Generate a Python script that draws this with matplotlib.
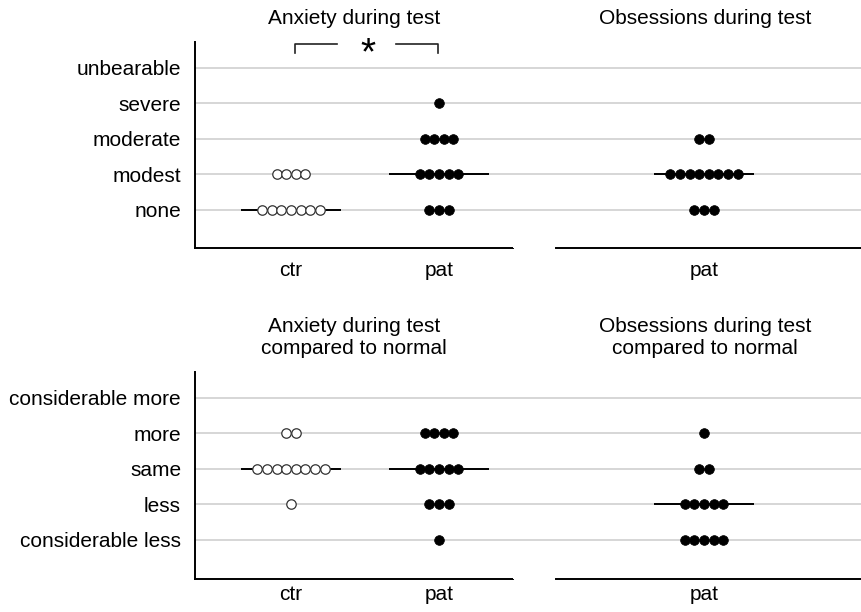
import matplotlib
matplotlib.use("Agg")
import matplotlib.pyplot as plt
import numpy as np

plt.rcParams['font.family'] = ['Liberation Sans', 'DejaVu Sans']

# ---- data ----
levels_top = ["none", "modest", "moderate", "severe", "unbearable"]
levels_bottom = ["considerable less", "less", "same", "more", "considerable more"]

# counts per level (index aligned with level lists)
anx_ctr = [7, 4, 0, 0, 0]
anx_pat = [3, 5, 4, 1, 0]
obs_pat = [3, 8, 2, 0, 0]

anxcmp_ctr = [0, 1, 8, 2, 0]
anxcmp_pat = [1, 3, 5, 4, 0]
obscmp_pat = [5, 5, 2, 1, 0]

titles = ["Anxiety during test", "Obsessions during test",
          "Anxiety during test\ncompared to normal",
          "Obsessions during test\ncompared to normal"]

W, H = 862, 612
fig = plt.figure(figsize=(W / 100, H / 100), dpi=100)

PX_PER_UNIT = 148.0
SPACING = 9.6 / PX_PER_UNIT
HALF_MED = 50 / PX_PER_UNIT
GRID_C = '#d3d3d3'
FS = 15


def fig_ax(x0, y0, x1, y1):
    return fig.add_axes([x0 / W, (H - y1) / H, (x1 - x0) / W, (y1 - y0) / H])


def draw_group(ax, xc, counts, filled):
    for lvl, n in enumerate(counts):
        if n == 0:
            continue
        offs = (np.arange(n) - (n - 1) / 2) * SPACING
        if filled:
            ax.plot(xc + offs, np.full(n, lvl), 'o', ms=7.0, mfc='black',
                    mec='black', mew=0.5, zorder=4, clip_on=False)
        else:
            ax.plot(xc + offs, np.full(n, lvl), 'o', ms=6.8, mfc='white',
                    mec='#333333', mew=0.9, zorder=4, clip_on=False)
    # median
    vals = np.repeat(np.arange(len(counts)), counts)
    med = np.median(vals)
    ax.plot([xc - HALF_MED, xc + HALF_MED], [med, med], color='black',
            lw=1.4, zorder=3, solid_capstyle='butt')


def style(ax, levels, ylim, left, xpad):
    ax.set_ylim(*ylim)
    ax.set_yticks(range(len(levels)))
    ax.grid(axis='y', color=GRID_C, lw=1.3, zorder=0)
    ax.set_axisbelow(True)
    ax.tick_params(axis='both', length=0, labelsize=FS)
    ax.tick_params(axis='y', pad=10)
    ax.tick_params(axis='x', pad=xpad)
    ax.spines['top'].set_visible(False)
    ax.spines['right'].set_visible(False)
    for s in ['left', 'bottom']:
        ax.spines[s].set_linewidth(1.4)
    if left:
        ax.set_yticklabels(levels)
    else:
        ax.spines['left'].set_visible(False)
        ax.set_yticklabels([])


ylim_top = (-1.07, 4.73)
ylim_bot = (-1.10, 4.73)


def left_xlim():
    return ((195 - 291) / PX_PER_UNIT, (513 - 291) / PX_PER_UNIT)


def right_xlim():
    return ((513 - 704) / PX_PER_UNIT, (862 - 704) / PX_PER_UNIT)


# Top-left
ax1 = fig_ax(195, 42, 513, 248)
style(ax1, levels_top, ylim_top, True, 9)
ax1.set_xlim(*left_xlim())
draw_group(ax1, 0, anx_ctr, False)
draw_group(ax1, 1, anx_pat, True)
ax1.set_xticks([0, 1])
ax1.set_xticklabels(["ctr", "pat"])
# significance bracket
yb, yd = 4.68, 4.42
g0, g1 = 0.31, 0.71
ax1.plot([0.03, 0.03, g0], [yd, yb, yb], color='#222222', lw=1.2, clip_on=False)
ax1.plot([g1, 0.99, 0.99], [yb, yb, yd], color='#222222', lw=1.2, clip_on=False)
ax1.text(0.52, 4.37, "*", ha='center', va='center', fontsize=28, clip_on=False)
fig.text(354 / W, 1 - 18 / H, titles[0], ha='center', va='center', fontsize=FS)

# Top-right
ax2 = fig_ax(513, 42, 862, 248)
style(ax2, levels_top, ylim_top, False, 9)
ax2.set_xlim(*right_xlim())
ax2.spines['bottom'].set_bounds((556 - 704) / PX_PER_UNIT, right_xlim()[1])
draw_group(ax2, 0, obs_pat, True)
ax2.set_xticks([0])
ax2.set_xticklabels(["pat"])
fig.text(705 / W, 1 - 18 / H, titles[1], ha='center', va='center', fontsize=FS)

# Bottom-left
ax3 = fig_ax(195, 372, 513, 579)
style(ax3, levels_bottom, ylim_bot, True, 4)
ax3.set_xlim(*left_xlim())
draw_group(ax3, 0, anxcmp_ctr, False)
draw_group(ax3, 1, anxcmp_pat, True)
ax3.set_xticks([0, 1])
ax3.set_xticklabels(["ctr", "pat"])
fig.text(354 / W, 1 - 338 / H, titles[2], ha='center', va='center',
         fontsize=FS, linespacing=1.2)

# Bottom-right
ax4 = fig_ax(513, 372, 862, 579)
style(ax4, levels_bottom, ylim_bot, False, 4)
ax4.set_xlim(*right_xlim())
ax4.spines['bottom'].set_bounds((556 - 704) / PX_PER_UNIT, right_xlim()[1])
draw_group(ax4, 0, obscmp_pat, True)
ax4.set_xticks([0])
ax4.set_xticklabels(["pat"])
fig.text(705 / W, 1 - 338 / H, titles[3], ha='center', va='center',
         fontsize=FS, linespacing=1.2)

fig.savefig("out.png", dpi=100, facecolor='white')
